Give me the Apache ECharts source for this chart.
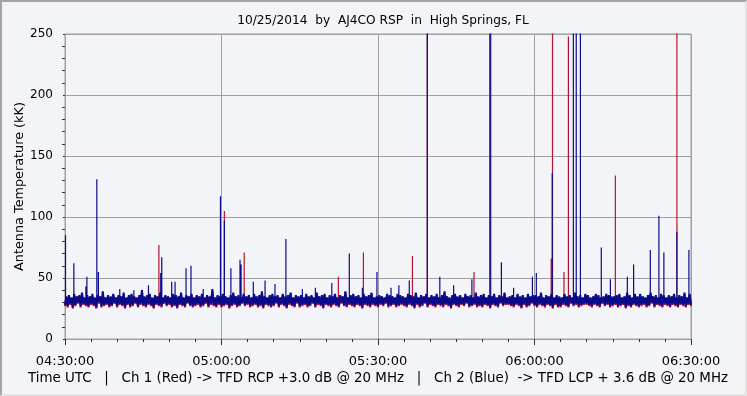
<!DOCTYPE html>
<html>
<head>
<meta charset="utf-8">
<script src="https://cdn.jsdelivr.net/npm/echarts@6/dist/echarts.min.js"></script>
<style>
  html, body { margin: 0; padding: 0; background: #ffffff; }
  #frame { position: absolute; left: 0; top: 0; width: 743px; height: 392px;
           border-top: 2px solid #a4a4a4; border-left: 2px solid #a4a4a4;
           border-right: 2px solid #e2e2e2; border-bottom: 2px solid #e2e2e2;
           background: #f3f4f8; }
  #chart { position: absolute; left: -2px; top: -2px; width: 747px; height: 396px; }
</style>
</head>
<body>
<div id="frame"><div id="chart"></div></div>
<script>
// ---- Data (minutes after 04:30:00 UTC) ----
const titleText = '10/25/2014  by  AJ4CO RSP  in  High Springs, FL';
const yAxisName = 'Antenna Temperature (kK)';
const footerText = 'Time UTC   |   Ch 1 (Red) -> TFD RCP +3.0 dB @ 20 MHz   |   Ch 2 (Blue)  -> TFD LCP + 3.6 dB @ 20 MHz';
const xTickLabels = ['04:30:00', '05:00:00', '05:30:00', '06:00:00', '06:30:00'];
const noiseStep = 0.25; // minutes between noise samples

// Ch 2 (Blue) background noise, kK
const blueNoise = [
28,35,27,36,29,34,26,37,28,35,30,36,27,38,29,34,28,36,27,35,
29,37,28,34,26,36,30,35,27,39,28,34,29,36,27,35,28,37,30,34,
27,36,29,35,28,38,26,34,29,36,27,37,28,35,30,34,27,36,29,40,
28,35,27,36,29,37,28,34,26,36,29,35,28,38,27,34,30,36,28,35,
29,34,27,37,28,36,26,35,29,38,28,34,27,36,30,35,28,37,27,34,
28,36,29,35,27,37,28,34,30,36,27,35,29,41,28,34,27,36,29,35,
27,37,28,35,29,34,26,36,28,38,29,35,27,36,28,34,30,37,28,35,
29,36,27,34,28,37,29,35,27,36,28,39,26,35,29,34,28,36,27,37,
28,35,30,36,27,34,29,37,28,35,26,36,29,38,28,34,27,36,30,35,
27,36,28,34,29,37,27,35,28,36,30,34,27,38,29,35,28,36,26,37,
29,34,28,36,27,35,29,37,28,34,27,36,30,35,28,39,27,34,29,36,
28,37,27,35,29,36,28,34,26,37,29,35,28,36,27,38,29,34,28,35,
27,36,29,35,28,34,30,37,27,36,28,35,29,34,27,37,28,36,29,35,
28,34,27,37,29,36,28,35,26,38,29,34,27,36,28,35,30,37,27,34,
29,36,28,35,27,37,29,34,28,36,27,39,29,35,28,34,26,36,29,37,
28,35,27,36,29,34,28,37,30,35,27,36,28,34,29,38,27,35,28,36,
27,37,29,34,28,36,26,35,29,37,28,34,27,36,30,35,28,38,29,34,
29,35,28,36,27,34,29,37,28,35,26,36,29,34,27,37,28,35,30,36,
28,36,27,35,29,38,28,34,27,36,29,35,28,37,26,34,29,36,27,35,
27,34,29,37,28,35,27,36,30,34,28,38,29,35,27,36,28,34,29,37,
29,36,28,34,27,35,29,37,28,36,27,34,30,35,28,37,29,36,27,35,
28,35,29,36,27,37,28,34,29,35,26,38,28,36,27,34,29,37,28,35,
27,37,28,35,29,34,27,36,28,38,30,35,27,36,29,34,28,37,27,36,
29,34,28,36,27,35,29,37,28,34,27,36,29,35,28,38,27,34,29,37,
28
];

// Ch 1 (Red) background noise, kK
const redNoise = [
27,34,26,35,28,33,25,36,27,34,29,35,26,36,28,33,27,35,26,34,
28,35,27,33,25,35,29,34,26,37,27,33,28,35,26,34,27,36,29,33,
26,35,28,34,27,36,25,33,28,35,26,36,27,34,29,33,26,35,28,38,
27,34,26,35,28,36,27,33,25,35,28,34,27,37,26,33,29,35,27,34,
28,33,26,36,27,35,25,34,28,37,27,33,26,35,29,34,27,36,26,33,
27,35,28,34,26,36,27,33,29,35,26,34,28,39,27,33,26,35,28,34,
26,36,27,34,28,33,25,35,27,37,28,34,26,35,27,33,29,36,27,34,
28,35,26,33,27,36,28,34,26,35,27,38,25,34,28,33,27,35,26,36,
27,34,29,35,26,33,28,36,27,34,25,35,28,37,27,33,26,35,29,34,
26,35,27,33,28,36,26,34,27,35,29,33,26,37,28,34,27,35,25,36,
28,33,27,35,26,34,28,36,27,33,26,35,29,34,27,38,26,33,28,35,
27,36,26,34,28,35,27,33,25,36,28,34,27,35,26,37,28,33,27,34,
26,35,28,34,27,33,29,36,26,35,27,34,28,33,26,36,27,35,28,34,
27,33,26,36,28,35,27,34,25,37,28,33,26,35,27,34,29,36,26,33,
28,35,27,34,26,36,28,33,27,35,26,38,28,34,27,33,25,35,28,36,
27,34,26,35,28,33,27,36,29,34,26,35,27,33,28,37,26,34,27,35,
26,36,28,33,27,35,25,34,28,36,27,33,26,35,29,34,27,37,28,33,
28,34,27,35,26,33,28,36,27,34,25,35,28,33,26,36,27,34,29,35,
27,35,26,34,28,37,27,33,26,35,28,34,27,36,25,33,28,35,26,34,
26,33,28,36,27,34,26,35,29,33,27,37,28,34,26,35,27,33,28,36,
28,35,27,33,26,34,28,36,27,35,26,33,29,34,27,36,28,35,26,34,
27,34,28,35,26,36,27,33,28,34,25,37,27,35,26,33,28,36,27,34,
26,36,27,34,28,33,26,35,27,37,29,34,26,35,28,33,27,36,26,35,
28,33,27,35,26,34,28,36,27,33,26,35,28,34,27,37,26,33,28,36,
27
];

// Impulsive events: [minute after 04:30, peak kK] (values above 250 run off the top)
const blueSpikes = [
[0.1,85],[1.7,62],[4.0,43],[4.2,51],[6.1,131],[6.4,55],[10.5,41],[13.2,40],[16.0,44],
[18.35,54],[18.55,67],[20.45,47],[21.1,47],[23.2,58],[24.15,60],[26.5,41],
[29.8,117],[30.55,97],[31.8,58],[33.55,65],[33.75,61],[36.1,47],[38.35,48],
[40.25,45],[42.35,82],[45.5,41],[48.0,42],[51.15,46],[54.5,70],[57.0,42],[59.8,55],
[62.5,42],[64.0,44],[66.0,48],[69.45,260],[71.85,51],[74.5,44],[78.0,49],[81.6,260],
[83.65,63],[86.0,42],[89.6,51],[90.35,54],[93.4,136],[97.45,260],[98.0,260],
[98.8,260],[102.8,75],[104.55,49],[107.8,51],[109.0,61],[112.2,73],[113.85,101],
[114.8,71],[117.3,88],[119.6,73]
];
const redSpikes = [
[18.0,77],[30.55,105],[34.35,71],[52.4,51],[57.2,71],[66.6,68],[69.45,260],
[78.4,55],[81.4,260],[93.2,66],[93.45,260],[95.65,55],[96.5,248],[105.5,134],[117.3,260]
];
const spikeBase = 33;

// ---- Build series data from the arrays ----
function noiseData(arr) { return arr.map((v, i) => [i * noiseStep, v]); }
function spikeData(arr) {
  const out = [];
  arr.forEach(([m, v]) => { out.push([m, spikeBase], [m, v], [m, '-']); });
  return out;
}

const RED = '#b8132e';
const BLUE = '#0a0a8c';
const FONT = 'DejaVu Sans';

const chart = echarts.init(document.getElementById('chart'), null, { renderer: 'canvas' });
const lineBase = { type: 'line', showSymbol: false, symbol: 'none', animation: false,
                   sampling: null, connectNulls: false, silent: true };
chart.setOption({
  backgroundColor: 'transparent',
  animation: false,
  title: {
    text: titleText, left: 378, top: 10, textAlign: 'center',
    textStyle: { fontFamily: FONT, fontSize: 12.2, fontWeight: 'normal', color: '#000' }
  },
  graphic: [{
    type: 'text', left: 28, top: 372,
    style: { text: footerText, fontFamily: FONT, fontSize: 13.4, fill: '#000' }
  }],
  grid: { left: 65, right: 56, top: 34, bottom: 57, show: true,
          borderColor: '#a0a0a0', borderWidth: 1, backgroundColor: '#f3f4f8' },
  xAxis: {
    type: 'value', min: 0, max: 120, interval: 30, offset: 4,
    axisLine: { show: false },
    axisTick: { show: true, length: 6, lineStyle: { color: '#333' } },
    minorTick: { show: true, splitNumber: 6, length: 3, lineStyle: { color: '#333' } },
    splitLine: { show: true, lineStyle: { color: '#a0a0a0', width: 1 } },
    axisLabel: { margin: 12, fontFamily: FONT, fontSize: 13, color: '#000',
                 formatter: v => xTickLabels[Math.round(v / 30)] }
  },
  yAxis: {
    type: 'value', min: 0, max: 250, interval: 50, offset: 4,
    name: yAxisName, nameLocation: 'middle', nameGap: 35, nameRotate: 90,
    nameMoveOverlap: false,
    nameTextStyle: { fontFamily: FONT, fontSize: 12.8, color: '#000' },
    axisLine: { show: false },
    axisTick: { show: true, length: 2, lineStyle: { color: '#333' } },
    minorTick: { show: true, splitNumber: 5, length: 3, lineStyle: { color: '#333' } },
    splitLine: { show: true, lineStyle: { color: '#a0a0a0', width: 1 } },
    axisLabel: { margin: 8, fontFamily: FONT, fontSize: 12, color: '#000' }
  },
  series: [
    Object.assign({}, lineBase, { name: 'Ch 1', data: noiseData(redNoise), lineStyle: { color: RED, width: 2 }, z: 2 }),
    Object.assign({}, lineBase, { name: 'Ch 1 events', data: spikeData(redSpikes), lineStyle: { color: RED, width: 1.2 }, z: 3 }),
    Object.assign({}, lineBase, { name: 'Ch 2', data: noiseData(blueNoise), lineStyle: { color: BLUE, width: 2 }, z: 4 }),
    Object.assign({}, lineBase, { name: 'Ch 2 events', data: spikeData(blueSpikes), lineStyle: { color: BLUE, width: 1.2 }, z: 5 })
  ]
});
</script>
</body>
</html>
